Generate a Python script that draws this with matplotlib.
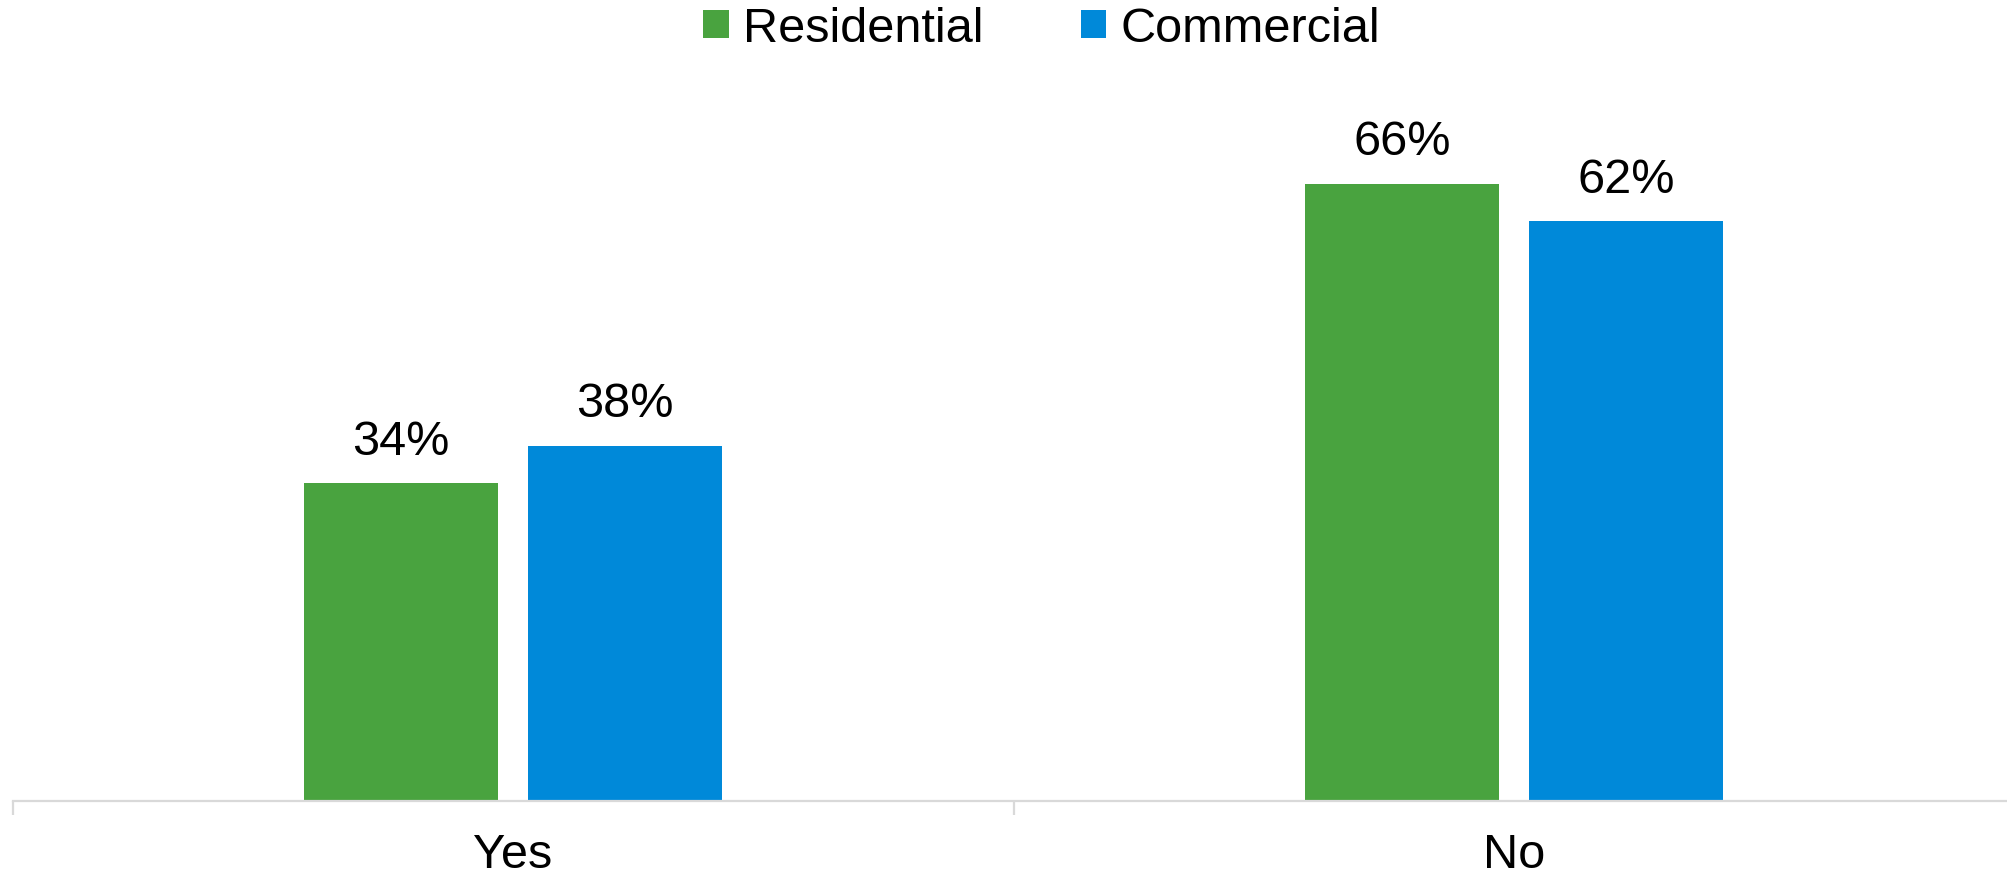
import matplotlib.pyplot as plt
import numpy as np

plt.rcParams['font.family'] = ['Liberation Sans', 'DejaVu Sans']

categories = ['Yes', 'No']
residential = [34, 66]
commercial = [38, 62]
series_names = ['Residential', 'Commercial']

green = '#49A33F'
blue = '#0089D9'
axis_grey = '#D9D9D9'

fig = plt.figure(figsize=(20.07, 8.79), dpi=100)
# axes placed in pixel terms: x from 12.5 to ~2014 (runs just past the edge), baseline at y=802 px
ax = fig.add_axes([12.5 / 2007, (879 - 802) / 879, 2002 / 2007, (802 - 54) / 879])

x = np.arange(len(categories))
w = 0.194
off = 0.112
b1 = ax.bar(x - off, residential, w, color=green, label=series_names[0])
b2 = ax.bar(x + off, commercial, w, color=blue, label=series_names[1])

for bars, vals in [(b1, residential), (b2, commercial)]:
    for b, v in zip(bars, vals):
        ax.annotate(f'{v}%', (b.get_x() + b.get_width() / 2, v),
                    xytext=(0, 14), textcoords='offset points',
                    ha='center', va='bottom', fontsize=35, color='#000000')

ax.set_xlim(-0.5, 1.5)
ax.set_ylim(0, 80)
ax.set_yticks([])
for s in ['left', 'right', 'top']:
    ax.spines[s].set_visible(False)
ax.spines['bottom'].set_color(axis_grey)
ax.spines['bottom'].set_linewidth(1.6)

ax.set_xticks(x)
ax.set_xticklabels(categories, fontsize=35)
ax.tick_params(axis='x', which='major', length=0, pad=22)
ax.set_xticks([-0.5, 0.5, 1.5], minor=True)
ax.tick_params(axis='x', which='minor', length=10, width=1.6, color=axis_grey)

fig.legend(handles=[b1, b2], loc='center', bbox_to_anchor=(1042 / 2007, 1 - 30 / 879),
           ncol=2, frameon=False, fontsize=35, handlelength=0.52, handleheight=0.52,
           handletextpad=0.3, columnspacing=2.0, borderpad=0)

fig.savefig('out.png', dpi=100)
